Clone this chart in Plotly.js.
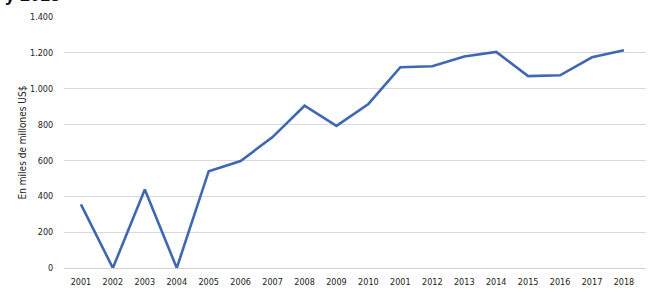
<!DOCTYPE html>
<html><head><meta charset="utf-8">
<script src="https://cdn.plot.ly/plotly-3.0.1.min.js"></script>
<style>body{margin:0;background:#fff}#chart{width:660px;height:300px}</style>
</head><body><div id="chart"></div>
<script>
const tickLabels = ["2001","2002","2003","2004","2005","2006","2007","2008","2009","2010","2001","2012","2013","2014","2015","2016","2017","2018"];
const values = [355, 0, 438, 0, 540, 597, 730, 905, 793, 915, 1120, 1125, 1180, 1205, 1070, 1075, 1175, 1215];
const yTicks = [0, 200, 400, 600, 800, 1000, 1200, 1400];
const yAxisTitle = "En miles de millones US$";
const chartTitle = "y 2018";

const idx = tickLabels.map((_, i) => i);
const fontFam = "'Liberation Sans Narrow', 'DejaVu Sans Condensed', Arial, sans-serif";

Plotly.newPlot('chart', [{
  x: idx, y: values, type: 'scatter', mode: 'lines',
  line: {color: '#4067b1', width: 2.6}, hoverinfo: 'none'
}], {
  width: 660, height: 300,
  margin: {l: 64, r: 14, t: 17, b: 32},
  paper_bgcolor: '#fff', plot_bgcolor: '#fff',
  separators: ',.',
  showlegend: false,
  font: {family: fontFam, size: 9, color: '#333'},
  xaxis: {
    range: [-0.53, 17.69], tickvals: idx, ticktext: tickLabels,
    showgrid: false, zeroline: false, showline: false,
    ticks: 'outside', ticklen: 5, tickcolor: 'rgba(0,0,0,0)',
    tickfont: {family: fontFam, size: 9, color: '#222'}, fixedrange: true
  },
  yaxis: {
    range: [0, 1400], tickvals: yTicks, tickformat: ',d',
    showgrid: true, gridcolor: '#d9d9d9', gridwidth: 1,
    zeroline: true, zerolinecolor: '#d0d0d0', zerolinewidth: 1,
    showline: false,
    ticks: 'outside', ticklen: 8, tickcolor: 'rgba(0,0,0,0)',
    tickfont: {family: fontFam, size: 9, color: '#222'},
    title: {text: yAxisTitle, font: {family: fontFam, size: 10, color: '#222'}, standoff: 1},
    fixedrange: true
  },
  annotations: [{
    text: '<b>' + chartTitle + '</b>', xref: 'paper', yref: 'paper',
    x: 0, xanchor: 'right', xshift: -2, y: 1, yanchor: 'bottom', yshift: 10,
    showarrow: false, font: {family: 'Liberation Sans, Arial, sans-serif', size: 18, color: '#111'}
  }]
}, {displayModeBar: false, staticPlot: true});
</script></body></html>
